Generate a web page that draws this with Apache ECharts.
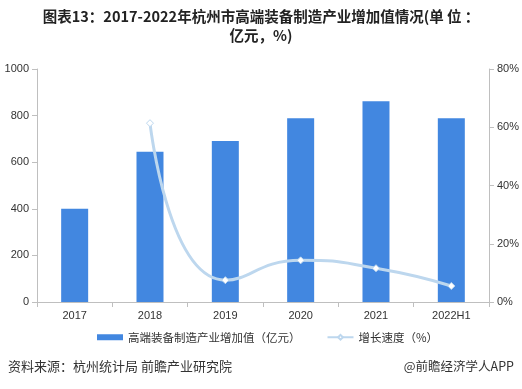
<!DOCTYPE html>
<html><head><meta charset="utf-8">
<script src="https://cdn.jsdelivr.net/npm/echarts@6/dist/echarts.min.js"></script>
<style>html,body{margin:0;padding:0;background:#fff}#c{width:522px;height:389px}</style>
</head><body><div id="c"></div>
<script>
const categories = ['2017','2018','2019','2020','2021','2022H1'];
const addedValue = [400, 645, 691, 789, 862, 789];
const growthRate = [null, 61.4, 7.5, 14.3, 11.6, 5.5];
const leftTicks = [0, 200, 400, 600, 800, 1000];
const rightTicks = ['0%','20%','40%','60%','80%'];
const titleLines = ['图表13：2017-2022年杭州市高端装备制造产业增加值情况(单 位 ：', '亿元，%)'];

const font = '"Noto Sans CJK SC", "Microsoft YaHei", sans-serif';
const chart = echarts.init(document.getElementById('c'), null, {renderer:'canvas'});
chart.setOption({
  animation: false,
  title: [
    {text: titleLines[0], left: 'center', top: 9, padding: 0,
     textStyle: {fontFamily: font, fontSize: 14.5, fontWeight: 'bold', color: '#222'}},
    {text: titleLines[1], left: 'center', top: 28, padding: 0,
     textStyle: {fontFamily: font, fontSize: 14.5, fontWeight: 'bold', color: '#222'}}
  ],
  grid: {left: 37, right: 32, top: 69, bottom: 87, containLabel: false},
  legend: {
    bottom: 41, left: 92, itemGap: 26,
    textStyle: {fontFamily: font, fontSize: 11.5, color: '#333'},
    data: [
      {name: '高端装备制造产业增加值（亿元）', icon: 'rect', itemStyle:{color:'#4287E0'}},
      {name: '增长速度（%）'}
    ],
    itemWidth: 26, itemHeight: 6
  },
  xAxis: {
    type: 'category', data: categories,
    axisLine: {lineStyle: {color: '#BFBFBF'}},
    axisTick: {show: true, alignWithLabel: false, lineStyle:{color:'#BFBFBF'}},
    axisLabel: {color: '#333', fontSize: 11, fontFamily: 'Arial, "Liberation Sans", sans-serif', margin: 8}
  },
  yAxis: [
    {type: 'value', min: 0, max: 1000, interval: 200,
     axisLine: {show: true, lineStyle: {color: '#BFBFBF'}},
     axisTick: {show: true, lineStyle:{color:'#BFBFBF'}},
     splitLine: {show: false},
     axisLabel: {color: '#333', fontSize: 11, fontFamily: 'Arial, "Liberation Sans", sans-serif', margin: 8,
       formatter: v => leftTicks.includes(v) ? String(v) : ''}},
    {type: 'value', min: 0, max: 80, interval: 20,
     axisLine: {show: true, lineStyle: {color: '#BFBFBF'}},
     axisTick: {show: true, lineStyle:{color:'#BFBFBF'}},
     splitLine: {show: false},
     axisLabel: {color: '#333', fontSize: 11, fontFamily: 'Arial, "Liberation Sans", sans-serif', margin: 8,
       formatter: v => rightTicks[Math.round(v/20)]}}
  ],
  series: [
    {name: '高端装备制造产业增加值（亿元）', type: 'bar', data: addedValue, barWidth: 27,
     itemStyle: {color: '#4287E0'}},
    {name: '增长速度（%）', type: 'line', yAxisIndex: 1, data: growthRate, smooth: 0.55,
     symbol: 'diamond', symbolSize: 7, showSymbol: true,
     lineStyle: {color: '#BDD7EE', width: 3},
     itemStyle: {color: '#ffffff', borderColor: '#BDD7EE', borderWidth: 1}}
  ],
  graphic: [
    {type: 'text', left: 8, top: 360, style: {text: '资料来源：杭州统计局 前瞻产业研究院', fontFamily: font, fontSize: 13, fill: '#333'}},
    {type: 'text', right: 8, top: 360, style: {text: '@前瞻经济学人APP', fontFamily: font, fontSize: 12.5, fill: '#333'}}
  ]
});
</script></body></html>
